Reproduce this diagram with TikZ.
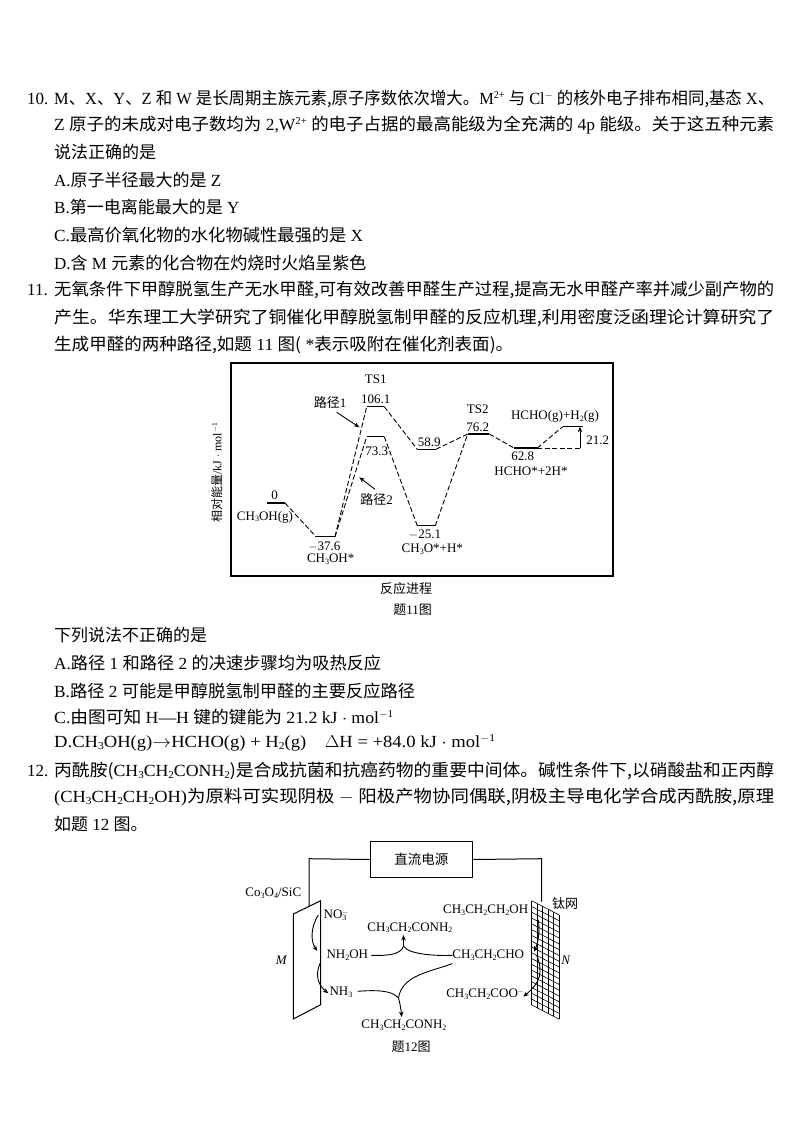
\documentclass[tikz,border=0pt]{standalone}
\usepackage{graphicx}
\usepackage{fontspec}
\setmainfont{Liberation Serif}
\newfontfamily\cjk{Noto Sans CJK SC}
\newcommand{\zh}[1]{{\cjk #1}}
\newcommand{\sbs}[1]{\raisebox{-0.25ex}{\scalebox{0.62}{#1}}}
\newcommand{\sps}[1]{\raisebox{0.75ex}{\scalebox{0.62}{#1}}}
\newcommand{\fitline}[2]{\resizebox{#1pt}{\height}{#2}}
\usetikzlibrary{arrows.meta}
\tikzset{
  body/.style={anchor=west,inner sep=0pt,font=\fontsize{17}{17}\selectfont},
  lab/.style={inner sep=0pt,font=\fontsize{13}{13}\selectfont},
  level/.style={line width=1.2pt},
  path dash/.style={line width=0.9pt,dash pattern=on 5pt off 2.5pt},
  wire/.style={line width=1pt},
  flow/.style={line width=0.9pt,-{Stealth[length=5.5pt,width=4.5pt]}},
  flowline/.style={line width=0.9pt}
}
\begin{document}
\begin{tikzpicture}[x=1pt,y=-1pt]
  \useasboundingbox (0,0) rectangle (800,1132);
  % question 10
  \node[body] (qa) at (27,99) {10.};
  \node[body] (la) at (54,99) {\fitline{720}{M\zh{、}X\zh{、}Y\zh{、}Z \zh{和} W \zh{是长周期主族元素,原子序数依次增大。}M\sps{2+} \zh{与} Cl\sps{$-$} \zh{的核外电子排布相同,基态} X\zh{、}}};
  \node[body] (lb) at (54,125) {\fitline{720}{Z \zh{原子的未成对电子数均为} 2,W\sps{2+} \zh{的电子占据的最高能级为全充满的} 4p \zh{能级。关于这五种元素}}};
  \node[body] (lc) at (54,152) {\zh{说法正确的是}};
  \node[body] (ld) at (54,180) {A.\zh{原子半径最大的是} Z};
  \node[body] (le) at (54,207) {B.\zh{第一电离能最大的是} Y};
  \node[body] (lf) at (54,235) {\fitline{309}{C.\zh{最高价氧化物的水化物碱性最强的是} X}};
  \node[body] (lg) at (54,263) {D.\zh{含} M \zh{元素的化合物在灼烧时火焰呈紫色}};
  % question 11
  \node[body] (qb) at (27,290) {11.};
  \node[body] (ma) at (54,290) {\fitline{720}{\zh{无氧条件下甲醇脱氢生产无水甲醛,可有效改善甲醛生产过程,提高无水甲醛产率并减少副产物的}}};
  \node[body] (mb) at (54,318) {\fitline{720}{\zh{产生。华东理工大学研究了铜催化甲醇脱氢制甲醛的反应机理,利用密度泛函理论计算研究了}}};
  \node[body] (mc) at (54,345) {\fitline{459}{\zh{生成甲醛的两种路径,如题} 11 \zh{图(} *\zh{表示吸附在催化剂表面)。}}};
  \node[body] (md) at (54,635) {\zh{下列说法不正确的是}};
  \node[body] (me) at (54,663) {\fitline{327}{A.\zh{路径} 1 \zh{和路径} 2 \zh{的决速步骤均为吸热反应}}};
  \node[body] (mf) at (54,691) {\fitline{361}{B.\zh{路径} 2 \zh{可能是甲醇脱氢制甲醛的主要反应路径}}};
  \node[body] (mg) at (54,717) {\fitline{339}{C.\zh{由图可知} H---H \zh{键的键能为} 21.2 kJ $\cdot$ mol\sps{$-$1}}};
  \node[body] (mh) at (54,743) {\fitline{441}{D.CH\sbs{3}OH(g)$\rightarrow$HCHO(g) + H\sbs{2}(g)\quad $\Delta$H = +84.0 kJ $\cdot$ mol\sps{$-$1}}};
  % question 12
  \node[body] (qc) at (27,771) {12.};
  \node[body] (na) at (54,771) {\fitline{720}{\zh{丙酰胺(}CH\sbs{3}CH\sbs{2}CONH\sbs{2}\zh{)是合成抗菌和抗癌药物的重要中间体。碱性条件下,以硝酸盐和正丙醇}}};
  \node[body] (nb) at (54,797) {\fitline{720}{(CH\sbs{3}CH\sbs{2}CH\sbs{2}OH)\zh{为原料可实现阴极} $-$ \zh{阳极产物协同偶联,阴极主导电化学合成丙酰胺,原理}}};
  \node[body] (nc) at (54,824) {\zh{如题} 12 \zh{图。}};
  % energy profile
  \draw[line width=1.3pt] (231,363) rectangle (613,576);
  \coordinate (a1) at (266.7,503);   \coordinate (a2) at (285,503);
  \coordinate (b1) at (316,536.7);   \coordinate (b2) at (335,536.7);
  \coordinate (c1) at (366.7,406.7); \coordinate (c2) at (384.3,406.7);
  \coordinate (d1) at (366.7,436.7); \coordinate (d2) at (384.3,436.7);
  \coordinate (e1) at (417.3,449.3); \coordinate (e2) at (436,449.3);
  \coordinate (f1) at (417.3,525.7); \coordinate (f2) at (435.3,525.7);
  \coordinate (g1) at (467.7,434);   \coordinate (g2) at (489.3,434);
  \coordinate (h1) at (514,448);     \coordinate (h2) at (537.3,448);
  \coordinate (i1) at (562.7,426.7); \coordinate (i2) at (583.3,426.7);
  \coordinate (j1) at (580,448);     \coordinate (j2) at (580,426.7);
  \draw[level] (a1)--(a2);
  \draw[level] (b1)--(b2);
  \draw[level] (c1)--(c2);
  \draw[level] (d1)--(d2);
  \draw[level] (e1)--(e2);
  \draw[level] (f1)--(f2);
  \draw[level] (g1)--(g2);
  \draw[level] (h1)--(h2);
  \draw[level] (i1)--(i2);
  \draw[path dash] (a2)--(b1);
  \draw[path dash] (b2)--(c1);
  \draw[path dash] (b2)--(d1);
  \draw[path dash] (c2)--(e1);
  \draw[path dash] (d2)--(f1);
  \draw[path dash] (e2)--(g1);
  \draw[path dash] (f2)--(g1);
  \draw[path dash] (g2)--(h1);
  \draw[path dash] (h2)--(i1);
  \draw[path dash] (h2)--(j1);
  \draw[flow] (j1)--(j2);
  \node[lab] (tsa) at (375.7,379) {TS1};
  \node[lab] (vc) at (375.7,399.3) {106.1};
  \node[lab] (pa) at (330,402.3) {\zh{路径}1};
  \node[lab] (vd) at (376.7,451.7) {73.3};
  \node[lab] (pb) at (376.7,500) {\zh{路径}2};
  \node[lab] (tsb) at (477.7,409.3) {TS2};
  \node[lab] (vg) at (477.7,427.3) {76.2};
  \node[lab] (vi) at (555,416.7) {HCHO(g)+H\sbs{2}(g)};
  \node[lab] (vj) at (597.7,440.7) {21.2};
  \node[lab] (vh) at (522.7,456) {62.8};
  \node[lab] (sh) at (531,471.7) {HCHO*+2H*};
  \node[lab] (ve) at (429.3,442.3) {58.9};
  \node[lab] (va) at (274.7,495) {0};
  \node[lab] (sa) at (265,517.3) {CH\sbs{3}OH(g)};
  \node[lab] (vb) at (324.3,546.7) {$-$37.6};
  \node[lab] (sb) at (330.7,559) {CH\sbs{3}OH*};
  \node[lab] (vf) at (425,534.3) {$-$25.1};
  \node[lab] (sf) at (432.3,549.3) {CH\sbs{3}O*+H*};
  \node[lab,rotate=90,font=\fontsize{12}{12}\selectfont] (yl) at (216.7,473) {\zh{相对能量}/kJ $\cdot$ mol\sps{$-$1}};
  \node[lab] (xl) at (406,588.7) {\zh{反应进程}};
  \node[lab] (ca) at (412.7,610) {\zh{题}11\zh{图}};
  \coordinate (pa0) at (336.7,412.3);
  \coordinate (pa1) at (359.3,427.3);
  \coordinate (pb0) at (375,489.3);
  \coordinate (pb1) at (359.3,477.3);
  \draw[flow] (pa0) -- (pa1);
  \draw[flow] (pb0) -- (pb1);
  % cell
  \node[draw,line width=1.1pt,minimum width=102.7pt,minimum height=35.6pt,inner sep=0pt,font=\fontsize{13.5}{14}\selectfont] (src) at (421.4,859.5) {\zh{直流电源}};
  \coordinate (ma1) at (293.3,914);
  \coordinate (ma2) at (320.7,900.7);
  \coordinate (ma3) at (320.7,1004.7);
  \coordinate (ma4) at (293.3,1019);
  \draw[wire] (ma1)--(ma2)--(ma3)--(ma4)--cycle;
  \draw[wire] (src.west) -- (309,858.7) -- (309,906);
  \draw[wire] (src.east) -- (541.7,858.7) -- (541.7,901.7);
  % titanium mesh
  \foreach \i in {0,1,...,5}
    \draw[line width=0.6pt] (531.7+\i*5.52,900.7+\i*2.86) -- (531.7+\i*5.52,1005+\i*2.86);
  \foreach \j in {0,1,...,18}
    \draw[line width=0.6pt] (531.7,900.7+\j*5.79) -- (559.3,915+\j*5.79);
  \node[lab] (ct) at (273.3,893.3) {Co\sbs{3}O\sbs{4}/SiC};
  \node[lab] (mm) at (281.7,960.7) {\textit{M}};
  \node[lab] (nn) at (566,960) {\textit{N}};
  \node[lab] (ti) at (565,904) {\zh{钛网}};
  \node[lab] (no) at (336,915) {NO\rlap{\sbs{3}}\sps{$-$}};
  \node[lab] (am) at (410,927.7) {CH\sbs{3}CH\sbs{2}CONH\sbs{2}};
  \node[lab] (hy) at (347.3,955.3) {NH\sbs{2}OH};
  \node[lab] (al) at (488.3,955.3) {CH\sbs{3}CH\sbs{2}CHO};
  \node[lab] (pr) at (485.7,910) {CH\sbs{3}CH\sbs{2}CH\sbs{2}OH};
  \node[lab] (nh) at (341,992.3) {NH\sbs{3}};
  \node[lab] (ac) at (485,994) {CH\sbs{3}CH\sbs{2}COO\sps{$-$}};
  \node[lab] (bm) at (404,1025.3) {CH\sbs{3}CH\sbs{2}CONH\sbs{2}};
  \node[lab] (cb) at (411,1047.3) {\zh{题}12\zh{图}};
  \coordinate (ja) at (403.5,946);
  \coordinate (jb) at (398.5,998);
  \coordinate (jc) at (403.5,935);
  \coordinate (jd) at (401.7,1017);
  \draw[flowline] (hy.east) ++(3,0) .. controls (390,956) and (401,954) .. (ja);
  \draw[flowline] (al.west) .. controls (440,956) and (408,955) .. (ja);
  \draw[flow] (ja) -- (jc);
  \draw[flowline] (nh.east) ++(5,-1) .. controls (375,990) and (392,990) .. (jb);
  \draw[flow] (jb) .. controls (400,1003) and (401,1010) .. (jd);
  \draw[flowline] (al.south west) ++(0,3) .. controls (430,972) and (402,975) .. (jb);
  \draw[flow] (318.3,915) .. controls (310,928) and (311,942) .. (317.3,951);
  \draw[flow] (320,963.3) .. controls (315,975) and (318,985) .. (328.3,993.3);
  \draw[flow] (538.3,920) .. controls (540,932) and (538,943) .. (534,951.7);
  \draw[flow] (536.7,955) .. controls (543,972) and (541,982) .. (523.3,996.7);
\end{tikzpicture}
\end{document}
